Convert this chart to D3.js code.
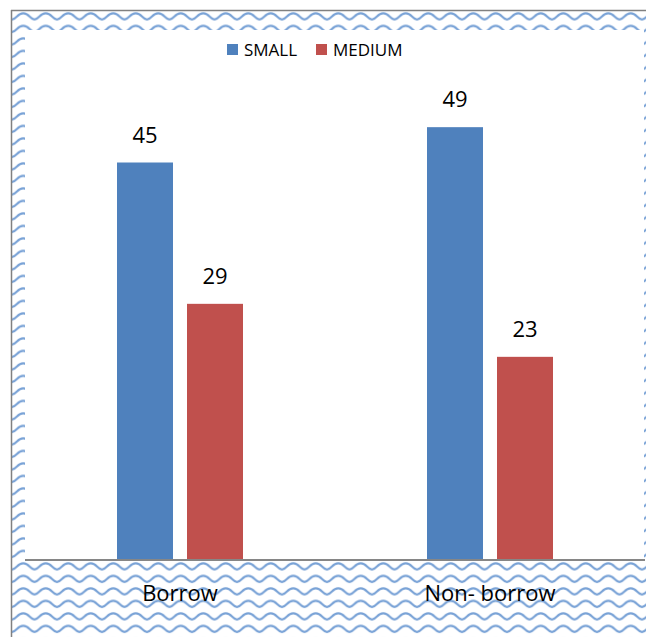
<!DOCTYPE html>
<html>
<head>
<meta charset="utf-8">
<script src="https://cdn.jsdelivr.net/npm/d3@7"></script>
<style>
  html, body { margin: 0; padding: 0; background: #fff; }
  svg { display: block; }
  text { font-family: "Open Sans", Lato, "Liberation Sans", sans-serif; fill: #000; }
</style>
</head>
<body>
<svg id="chart" width="646" height="637"></svg>
<script>
// Share of respondents by firm size, split by borrowing status
const categories = ["Borrow", "Non- borrow"];
const seriesNames = ["SMALL", "MEDIUM"];
const smallValues = [45, 49];
const mediumValues = [29, 23];
const seriesColors = ["#4F81BD", "#C0504D"];
const yMax = 60;

const svg = d3.select("#chart");
const W = 646, H = 637;

// Wave fill pattern for the chart frame
const defs = svg.append("defs");
const tileW = 22.5, tileH = 12.5;
const pat = defs.append("pattern")
  .attr("id", "wave")
  .attr("patternUnits", "userSpaceOnUse")
  .attr("x", 12).attr("y", 11)
  .attr("width", tileW).attr("height", tileH);
pat.append("rect").attr("width", tileW).attr("height", tileH).attr("fill", "#fff");
pat.append("path")
  .attr("d", "M-1.5,8.8 C5,8.8 4.8,2.2 11.25,2.2 C17.7,2.2 17.5,8.8 24,8.8")
  .attr("fill", "none")
  .attr("stroke", "#77a1d6")
  .attr("stroke-width", 2.1);

svg.append("rect")
  .attr("x", 12).attr("y", 11)
  .attr("width", W - 12).attr("height", H - 11)
  .attr("fill", "url(#wave)");

// outer frame lines
svg.append("line").attr("x1", 11.5).attr("x2", 11.5).attr("y1", 10).attr("y2", H)
  .attr("stroke", "#808080").attr("stroke-width", 1.5);
svg.append("line").attr("x1", 11).attr("x2", W).attr("y1", 10.5).attr("y2", 10.5)
  .attr("stroke", "#808080").attr("stroke-width", 1.5);

// plot area
const plot = { left: 25, right: 644, top: 30, bottom: 560 };
svg.append("rect")
  .attr("x", plot.left).attr("y", plot.top)
  .attr("width", plot.right - plot.left).attr("height", plot.bottom - plot.top)
  .attr("fill", "#fff");

const x0 = d3.scaleBand().domain(categories).range([25, 645]).paddingInner(0).paddingOuter(0);
const x1 = d3.scaleBand().domain(seriesNames).range([92, 218]).paddingInner(0.2);
const y = d3.scaleLinear().domain([0, yMax]).range([plot.bottom, plot.top]);

const rows = categories.map((c, i) => ({
  cat: c,
  vals: [
    { s: seriesNames[0], v: smallValues[i], color: seriesColors[0] },
    { s: seriesNames[1], v: mediumValues[i], color: seriesColors[1] }
  ]
}));

const groups = svg.append("g").selectAll("g")
  .data(rows).join("g")
  .attr("transform", d => `translate(${x0(d.cat)},0)`);

groups.selectAll("rect")
  .data(d => d.vals).join("rect")
  .attr("x", d => x1(d.s))
  .attr("width", x1.bandwidth())
  .attr("y", d => y(d.v))
  .attr("height", d => y(0) - y(d.v))
  .attr("fill", d => d.color);

groups.selectAll("text.val")
  .data(d => d.vals).join("text")
  .attr("class", "val")
  .attr("x", d => x1(d.s) + x1.bandwidth() / 2)
  .attr("y", d => y(d.v) - 20)
  .attr("text-anchor", "middle")
  .attr("font-size", 22)
  .text(d => d.v);

// category axis
const xAxis = svg.append("g")
  .attr("transform", `translate(0,${plot.bottom})`)
  .call(d3.axisBottom(x0).tickSize(0).tickPadding(0));
xAxis.select(".domain")
  .attr("d", `M${plot.left},0H${645}`)
  .attr("stroke", "#868686").attr("stroke-width", 2);
xAxis.selectAll("text")
  .attr("dy", null)
  .attr("y", 41)
  .attr("font-size", 22)
  .attr("font-family", "'Open Sans', Lato, sans-serif")
  .attr("fill", "#000");

// legend
const legend = svg.append("g");
const legendItems = [
  { name: seriesNames[0], color: seriesColors[0], x: 227 },
  { name: seriesNames[1], color: seriesColors[1], x: 316 }
];
const li = legend.selectAll("g").data(legendItems).join("g")
  .attr("transform", d => `translate(${d.x},44)`);
li.append("rect").attr("width", 11).attr("height", 11).attr("fill", d => d.color);
li.append("text").attr("x", 17).attr("y", 11.8).attr("font-size", 17).text(d => d.name);
</script>
</body>
</html>
